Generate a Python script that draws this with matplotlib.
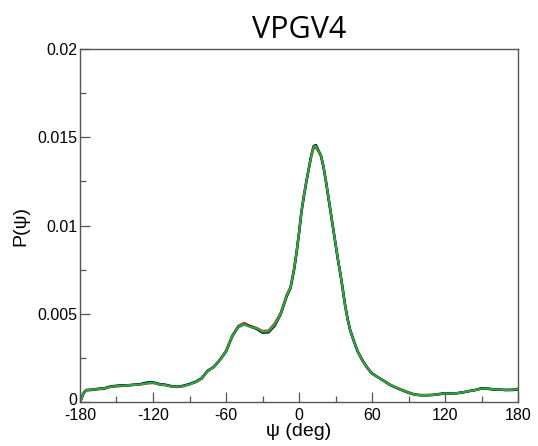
import matplotlib
matplotlib.use("Agg")
import matplotlib.pyplot as plt
import matplotlib.transforms as mtransforms
from matplotlib.ticker import MultipleLocator, FixedLocator

psi = [-180, -177, -175, -170, -165, -160, -155, -150, -145, -140, -135, -130, -125, -120,
       -115, -110, -105, -100, -95, -90, -85, -80, -75, -70, -65, -60, -55, -50, -45,
       -40, -35, -30, -25, -20, -15, -10, -7, -4, -2, 0, 2, 4, 6, 8, 10, 12, 14, 16, 18,
       20, 22, 24, 26, 28, 30, 32, 34, 36, 38, 40, 42, 45, 48, 52, 56, 60, 65, 70, 75,
       80, 85, 90, 95, 100, 105, 110, 115, 120, 125, 130, 135, 140, 145, 150, 155, 160,
       165, 170, 175, 180]

p_red = [0.0000, 0.0005, 0.00065, 0.00068, 0.00072, 0.00075, 0.00085, 0.00088, 0.00092, 0.00095,
         0.00098, 0.00100, 0.00105, 0.00108, 0.00100, 0.00095, 0.00088, 0.00085, 0.00090, 0.00100,
         0.00112, 0.00132, 0.00175, 0.00200, 0.00240, 0.00290, 0.00375, 0.00430, 0.00448,
         0.00430, 0.00420, 0.00402, 0.00405, 0.00445, 0.00505, 0.00610, 0.00650, 0.00760, 0.00850,
         0.00960, 0.01080, 0.01170, 0.01250, 0.01320, 0.01390, 0.01440, 0.01440, 0.01420, 0.01400,
         0.01340, 0.01260, 0.01170, 0.01080, 0.00990, 0.00900, 0.00810, 0.00730, 0.00630, 0.00540,
         0.00465, 0.00405, 0.00345, 0.00290, 0.00235, 0.00195, 0.00160, 0.00140, 0.00120, 0.00098,
         0.00082, 0.00068, 0.00055, 0.00043, 0.00040, 0.00040, 0.00040, 0.00043, 0.00048, 0.00048,
         0.00050, 0.00055, 0.00062, 0.00068, 0.00075, 0.00078, 0.00072, 0.00070, 0.00068, 0.00070,
         0.00075]

p_black = [0.0000, 0.0005, 0.00068, 0.00070, 0.00075, 0.00078, 0.00088, 0.00092, 0.00095, 0.00095,
           0.00098, 0.00102, 0.00110, 0.00112, 0.00102, 0.00098, 0.00090, 0.00087, 0.00092, 0.00102,
           0.00115, 0.00135, 0.00178, 0.00198, 0.00238, 0.00285, 0.00370, 0.00425, 0.00440,
           0.00428, 0.00415, 0.00393, 0.00395, 0.00432, 0.00498, 0.00600, 0.00645, 0.00750, 0.00845,
           0.00955, 0.01075, 0.01165, 0.01245, 0.01320, 0.01395, 0.01450, 0.01455, 0.01425, 0.01395,
           0.01335, 0.01255, 0.01165, 0.01075, 0.00985, 0.00895, 0.00805, 0.00725, 0.00640, 0.00545,
           0.00470, 0.00410, 0.00348, 0.00290, 0.00238, 0.00195, 0.00162, 0.00140, 0.00118, 0.00096,
           0.00080, 0.00066, 0.00052, 0.00042, 0.00038, 0.00038, 0.00040, 0.00045, 0.00050, 0.00048,
           0.00050, 0.00055, 0.00062, 0.00068, 0.00078, 0.00075, 0.00070, 0.00070, 0.00068, 0.00068,
           0.00070]

p_green = [0.0000, 0.0005, 0.00068, 0.00070, 0.00073, 0.00077, 0.00086, 0.00090, 0.00093, 0.00095,
           0.00097, 0.00100, 0.00106, 0.00110, 0.00100, 0.00096, 0.00088, 0.00086, 0.00090, 0.00100,
           0.00113, 0.00133, 0.00176, 0.00198, 0.00238, 0.00287, 0.00372, 0.00425, 0.00440,
           0.00425, 0.00418, 0.00398, 0.00400, 0.00438, 0.00500, 0.00605, 0.00648, 0.00755, 0.00848,
           0.00958, 0.01078, 0.01168, 0.01248, 0.01320, 0.01392, 0.01448, 0.01450, 0.01422, 0.01398,
           0.01338, 0.01258, 0.01168, 0.01078, 0.00988, 0.00898, 0.00808, 0.00728, 0.00635, 0.00542,
           0.00468, 0.00408, 0.00346, 0.00290, 0.00236, 0.00195, 0.00160, 0.00140, 0.00118, 0.00097,
           0.00081, 0.00067, 0.00053, 0.00042, 0.00039, 0.00039, 0.00040, 0.00044, 0.00049, 0.00048,
           0.00050, 0.00055, 0.00062, 0.00068, 0.00076, 0.00076, 0.00071, 0.00070, 0.00068, 0.00069,
           0.00072]

x_ticks = [-180, -120, -60, 0, 60, 120, 180]
y_ticks = [0, 0.005, 0.01, 0.015, 0.02]
y_tick_labels = ["0", "0.005", "0.01", "0.015", "0.02"]

plt.rcParams['font.family'] = ['Liberation Sans', 'DejaVu Sans']

fig = plt.figure(figsize=(5.38, 4.46), dpi=100)
ax = fig.add_axes([80/538, 44/446, 438/538, 353/446])

ax.plot(psi, p_red, color='#ff3333', lw=1.8)
ax.plot(psi, p_black, color='black', lw=1.8)
ax.plot(psi, p_green, color='#22aa44', lw=1.6)

ax.set_xlim(-180, 180)
ax.set_ylim(0, 0.02)
ax.xaxis.set_major_locator(FixedLocator(x_ticks))
ax.xaxis.set_minor_locator(MultipleLocator(30))
ax.yaxis.set_major_locator(FixedLocator(y_ticks))
ax.yaxis.set_minor_locator(MultipleLocator(0.0025))
ax.set_yticklabels(y_tick_labels)
ax.set_xticklabels([str(t) for t in x_ticks])

ax.tick_params(which='major', direction='in', length=7, width=0.9, color='#555555',
               labelsize=11.5, pad=4, top=False, right=False)
ax.tick_params(which='minor', direction='in', length=4, width=0.9, color='#555555',
               top=False, right=False)
ax.tick_params(axis='y', pad=2)
for s in ax.spines.values():
    s.set_color('#555555')
    s.set_linewidth(1.0)

# nudge the "0" y tick label up a few pixels so it does not collide with "-180"
ylab0 = ax.get_yticklabels()[0]
ylab0.set_transform(ylab0.get_transform() +
                    mtransforms.ScaledTranslation(0, 3 / 100, fig.dpi_scale_trans))

ax.set_xlabel('ψ (deg)', fontsize=14, labelpad=0)
ax.set_ylabel('P(ψ)', fontsize=14, labelpad=6)
fig.text(299/538, 1 - 30/446, 'VPGV4', fontsize=22, family=['Open Sans', 'DejaVu Sans'],
         ha='center', va='center')

fig.savefig('out.png', dpi=100)
